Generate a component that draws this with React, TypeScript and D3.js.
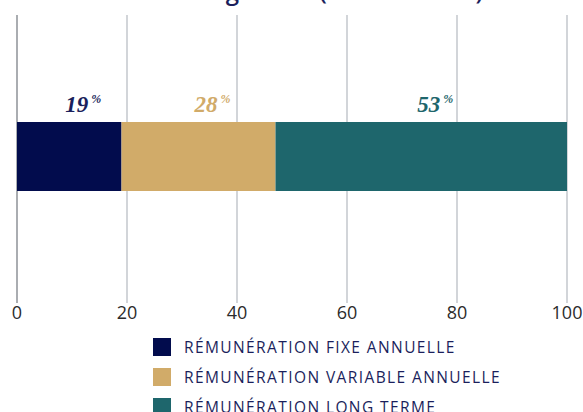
import React from "react";
import * as d3 from "d3";

const categories = ["RÉMUNÉRATION FIXE ANNUELLE", "RÉMUNÉRATION VARIABLE ANNUELLE", "RÉMUNÉRATION LONG TERME"];
const values = [19, 28, 53];
const colors = ["#020c4d", "#d1ab69", "#1e666c"];
const labelColors = ["#1b1f5c", "#d1ab69", "#1e666c"];
const ticks = [0, 20, 40, 60, 80, 100];
const title = "Directeur général (cible à 100 %)";

const W = 583;
const H = 412;

export default function App() {
  const x = d3.scaleLinear().domain([0, 100]).range([17, 567]);
  const stack = values.reduce<{ start: number; end: number; v: number; i: number }[]>((acc, v, i) => {
    const start = i === 0 ? 0 : acc[i - 1].end;
    acc.push({ start, end: start + v, v, i });
    return acc;
  }, []);
  const barTop = 122;
  const barH = 69;
  return (
    <svg width={W} height={H} style={{ position: "absolute", left: 0, top: 0, background: "#fff" }}>
      <text x={483} y={0} textAnchor="end" fontFamily="Open Sans" fontWeight={600} fontSize={24} fill="#1b1f5c">
        {title}
      </text>
      {ticks.map((t) => (
        <g key={t}>
          <line x1={x(t)} x2={x(t)} y1={15} y2={303} stroke={t === 0 ? "#8e9297" : "#c3c7cc"} strokeWidth={1.5} />
          <text x={x(t)} y={319} textAnchor="middle" fontFamily="Open Sans" fontSize={18} fill="#2b2b2b">
            {t}
          </text>
        </g>
      ))}
      {stack.map((s) => (
        <rect key={s.i} x={x(s.start)} y={barTop} width={x(s.end) - x(s.start)} height={barH} fill={colors[s.i]} />
      ))}
      {stack.map((s) => (
        <text
          key={"l" + s.i}
          x={(x(s.start) + x(s.end)) / 2 + 14}
          y={112}
          textAnchor="middle"
          fontFamily="Liberation Serif"
          fontStyle="italic"
          fontWeight="bold"
          fontSize={23}
          fill={labelColors[s.i]}
        >
          {s.v}
          <tspan fontSize={12} dy={-9} dx={3}>%</tspan>
        </text>
      ))}
      {categories.map((c, i) => (
        <g key={c} transform={`translate(153, ${338 + i * 30})`}>
          <rect width={18} height={18} fill={colors[i]} />
          <text x={31} y={14.5} fontFamily="Open Sans" fontWeight={500} fontSize={15.5} letterSpacing={1.4} fill="#1b1f5c">
            {c}
          </text>
        </g>
      ))}
    </svg>
  );
}
